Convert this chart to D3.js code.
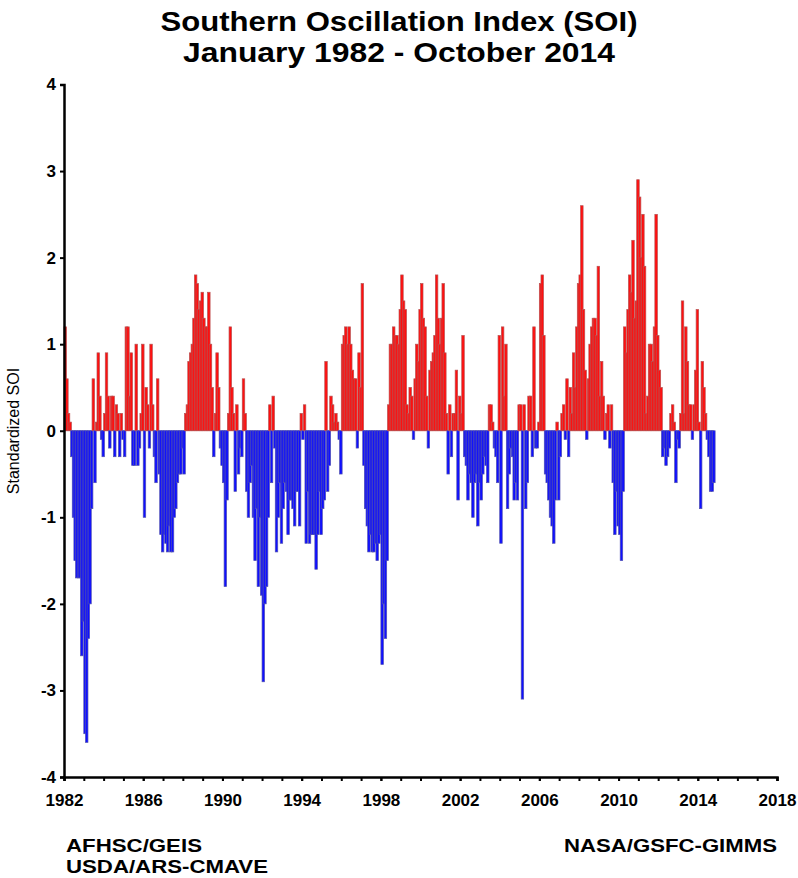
<!DOCTYPE html>
<html>
<head>
<meta charset="utf-8">
<script src="https://cdn.jsdelivr.net/npm/d3@7"></script>
<style>
  html, body { margin: 0; padding: 0; background: #ffffff; }
  svg { display: block; font-family: "Liberation Sans", Arial, Helvetica, sans-serif; }
</style>
</head>
<body>
<svg id="chart" width="798" height="878"></svg>
<script>
// ---- Data: monthly standardized SOI, Jan 1982 - Oct 2014 ----
const soi1982 = [1.2, 0.6, 0.2, 0.1, -0.3, -1.0, -1.5, -1.7, -1.7, -1.7, -2.6, -2.2];
const soi1983 = [-3.5, -3.6, -2.4, -2.0, -0.9, 0.6, -0.6, 0.1, 0.9, 0.4, -0.1, -0.3];
const soi1984 = [0.2, 0.9, 0.4, -0.2, 0.4, 0.4, -0.3, 0.3, 0.2, -0.3, 0.2, -0.1];
const soi1985 = [-0.3, 1.2, 1.2, 0.4, 0.9, -0.4, -0.4, 1.0, -0.4, -0.2, 0.2, 1.0];
const soi1986 = [-1.0, 0.5, 0.3, -0.2, 1.0, 0.3, -0.3, -0.6, 0.6, -0.5, -1.2, -1.4];
const soi1987 = [-1.2, -1.3, -1.4, -1.1, -1.4, -1.4, -1.0, -0.9, -0.6, -0.5, -0.5, -0.2];
const soi1988 = [-0.5, 0.2, 0.3, 0.8, 0.9, 1.0, 1.3, 1.8, 1.7, 1.4, 1.5, 1.6];
const soi1989 = [1.3, 1.2, 1.2, 1.6, 1.0, 0.5, -0.3, 0.2, 0.9, 0.5, -0.2, -0.4];
const soi1990 = [-0.6, -1.8, -0.8, 0.2, 1.2, 0.5, 0.2, -0.7, 0.3, -0.5, -0.2, -0.3];
const soi1991 = [0.6, 0.2, -0.7, -1.0, -0.6, -0.4, -1.0, -1.5, -0.9, -1.8, -1.0, -1.9];
const soi1992 = [-2.9, -2.0, -1.8, -1.0, 0.3, -0.6, 0.4, -0.2, -1.4, -1.0, -0.6, -1.3];
const soi1993 = [-0.9, -0.6, -0.7, -1.2, -0.8, -0.8, -0.9, -1.1, -0.7, -0.7, -1.1, 0.2];
const soi1994 = [-0.1, 0.3, -1.3, -0.7, -1.3, -1.2, -1.2, -1.2, -1.6, -1.2, -0.7, -1.2];
const soi1995 = [-0.9, -0.8, 0.8, -0.7, -0.4, 0.4, 0.3, 0.1, 0.2, 0.1, -0.1, -0.5];
const soi1996 = [1.0, 1.1, 1.2, 1.0, 1.2, 1.0, 0.7, 0.6, 0.6, -0.2, 0.9, 0.5];
const soi1997 = [1.7, -0.4, -0.9, -1.1, -1.4, -1.2, -1.4, -1.4, -1.3, -1.5, -1.3, -1.2];
const soi1998 = [-2.7, -2.0, -2.4, -1.5, 0.3, 1.0, 1.0, 1.2, 1.1, 1.1, 1.0, 1.4];
const soi1999 = [1.8, 1.5, 1.4, 0.3, 0.2, 0.5, 0.4, -0.1, 0.6, 1.0, 0.8, 1.4];
const soi2000 = [1.7, 1.3, 1.2, 0.4, -0.2, 0.7, 0.8, 0.9, 1.1, 1.8, 1.3, 1.0];
const soi2001 = [1.3, 1.7, 0.9, 0.2, -0.5, 0.3, -0.3, 0.2, 0.2, 0.7, -0.8, 0.4];
const soi2002 = [0.2, 1.1, -0.3, -0.4, -0.8, -0.5, -0.6, -1.0, -0.6, -0.5, -1.1, -0.6];
const soi2003 = [-0.8, -0.5, -0.3, -0.4, -0.6, 0.3, 0.3, 0.1, -0.2, -0.3, -0.6, 1.1];
const soi2004 = [-1.3, 1.2, 0.4, 1.0, -0.9, -0.5, -0.2, -0.3, -0.8, -0.6, -0.8, 0.3];
const soi2005 = [0.3, -3.1, 0.3, -0.9, -0.6, 0.4, 0.4, -0.3, 1.2, -0.2, -0.2, 0.1];
const soi2006 = [1.7, 1.8, 1.1, -0.5, -0.6, -0.8, -1.0, -1.1, -1.3, -0.8, 0.1, -0.8];
const soi2007 = [-0.3, 0.2, 0.3, -0.1, 0.6, -0.3, 0.5, 0.2, 0.9, 0.5, 1.2, 1.7];
const soi2008 = [1.8, 2.6, 1.4, 0.7, -0.1, 0.6, 1.0, 1.2, 1.3, 1.3, 1.1, 1.9];
const soi2009 = [0.4, 0.8, 0.4, -0.1, 0.2, 0.3, -0.2, 0.3, -0.6, -1.2, -0.7, -1.1];
const soi2010 = [-1.2, -1.5, -0.7, 1.2, 0.9, 1.4, 1.8, 1.6, 2.2, 1.3, 1.5, 2.9];
const soi2011 = [2.7, 2.0, 2.5, 1.9, 0.2, 0.4, 1.0, 1.0, 0.8, 1.2, 2.5, 1.1];
const soi2012 = [0.7, 0.5, -0.3, -0.2, -0.4, -0.3, -0.2, 0.2, 0.3, 0.1, -0.6, -0.1];
const soi2013 = [-0.2, 0.2, 1.5, 0.2, 1.2, 0.8, 0.3, 0.3, -0.1, 0.3, 0.7, 1.4];
const soi2014 = [0.1, -0.9, 0.8, 0.5, 0.2, -0.1, -0.3, -0.7, -0.7, -0.6];

const startYear = 1982;
const yTicks = [4, 3, 2, 1, 0, -1, -2, -3, -4];
const xLabelYears = [1982, 1986, 1990, 1994, 1998, 2002, 2006, 2010, 2014, 2018];
const xMinorYears = d3.range(1982, 2019);
const titleLines = ["Southern Oscillation Index (SOI)", "January 1982 - October 2014"];
const yTitle = "Standardized SOI";
const creditsLeft = ["AFHSC/GEIS", "USDA/ARS-CMAVE"];
const creditRight = "NASA/GSFC-GIMMS";

const yearly = [soi1982, soi1983, soi1984, soi1985, soi1986, soi1987, soi1988, soi1989,
  soi1990, soi1991, soi1992, soi1993, soi1994, soi1995, soi1996, soi1997, soi1998,
  soi1999, soi2000, soi2001, soi2002, soi2003, soi2004, soi2005, soi2006, soi2007,
  soi2008, soi2009, soi2010, soi2011, soi2012, soi2013, soi2014];
const data = [];
yearly.forEach((arr, yi) => arr.forEach((v, mi) => data.push({ t: startYear + yi + mi / 12, v })));

// ---- Layout ----
const svg = d3.select("#chart");
const x = d3.scaleLinear().domain([1982, 2018]).range([64, 777]);
const y = d3.scaleLinear().domain([-4, 4]).range([777, 84.5]);
const barW = 2.5;

// Title (tight two-line block, stretched to the reference widths)
const titleWidths = [477, 432];
svg.append("g").selectAll("text").data(titleLines).join("text")
  .attr("x", 399).attr("y", (d, i) => 31 + i * 31)
  .attr("text-anchor", "middle")
  .attr("font-size", 27.5).attr("font-weight", "bold").attr("fill", "#000")
  .attr("textLength", (d, i) => titleWidths[i])
  .attr("lengthAdjust", "spacingAndGlyphs")
  .text(d => d);

// Bars
svg.append("g").selectAll("rect").data(data).join("rect")
  .attr("x", d => x(d.t))
  .attr("width", barW)
  .attr("y", d => d.v >= 0 ? y(d.v) : y(0))
  .attr("height", d => Math.max(0.5, Math.abs(y(d.v) - y(0))))
  .attr("fill", d => d.v >= 0 ? "#ff0f0f" : "#0f0fff")
  .attr("stroke", d => d.v >= 0 ? "#b85050" : "#5050b0")
  .attr("stroke-width", 0.7);

// Y axis
const yAxis = d3.axisLeft(y).tickValues(yTicks).tickSize(4).tickPadding(4)
  .tickFormat(d => String(d));
const gy = svg.append("g").attr("transform", `translate(${x(1982)},0)`).call(yAxis);
gy.select(".domain").attr("stroke", "#000").attr("stroke-width", 2.5);
gy.selectAll(".tick line").attr("stroke", "#000").attr("stroke-width", 2);
gy.selectAll(".tick text").attr("font-size", 17).attr("font-weight", "bold")
  .attr("font-family", "'Liberation Sans', Arial, sans-serif").attr("fill", "#000");

// X axis: minor yearly ticks + labels every 4 years
const xAxisMinor = d3.axisBottom(x).tickValues(xMinorYears).tickSize(4).tickFormat("");
const gxm = svg.append("g").attr("transform", `translate(0,${y(-4)})`).call(xAxisMinor);
gxm.select(".domain").attr("stroke", "#000").attr("stroke-width", 2.5);
gxm.selectAll(".tick line").attr("stroke", "#000").attr("stroke-width", 2);

const xAxis = d3.axisBottom(x).tickValues(xLabelYears).tickSize(4).tickPadding(13)
  .tickFormat(d => String(d));
const gx = svg.append("g").attr("transform", `translate(0,${y(-4)})`).call(xAxis);
gx.select(".domain").remove();
gx.selectAll(".tick line").attr("stroke", "#000").attr("stroke-width", 2);
gx.selectAll(".tick text").attr("font-size", 17).attr("font-weight", "bold")
  .attr("font-family", "'Liberation Sans', Arial, sans-serif").attr("fill", "#000");

// Y axis title
svg.append("text")
  .attr("transform", "translate(19,431) rotate(-90)")
  .attr("text-anchor", "middle")
  .attr("font-size", 16).attr("fill", "#000")
  .text(yTitle);

// Credits
const creditLeftWidths = [136, 202];
svg.append("g").selectAll("text").data(creditsLeft).join("text")
  .attr("x", 66).attr("y", (d, i) => 852 + i * 21)
  .attr("font-size", 17.5).attr("font-weight", "bold").attr("fill", "#000")
  .attr("textLength", (d, i) => creditLeftWidths[i])
  .attr("lengthAdjust", "spacingAndGlyphs")
  .text(d => d);
svg.append("text")
  .attr("x", 777).attr("y", 852)
  .attr("text-anchor", "end")
  .attr("font-size", 17.5).attr("font-weight", "bold").attr("fill", "#000")
  .attr("textLength", 213)
  .attr("lengthAdjust", "spacingAndGlyphs")
  .text(creditRight);
</script>
</body>
</html>
